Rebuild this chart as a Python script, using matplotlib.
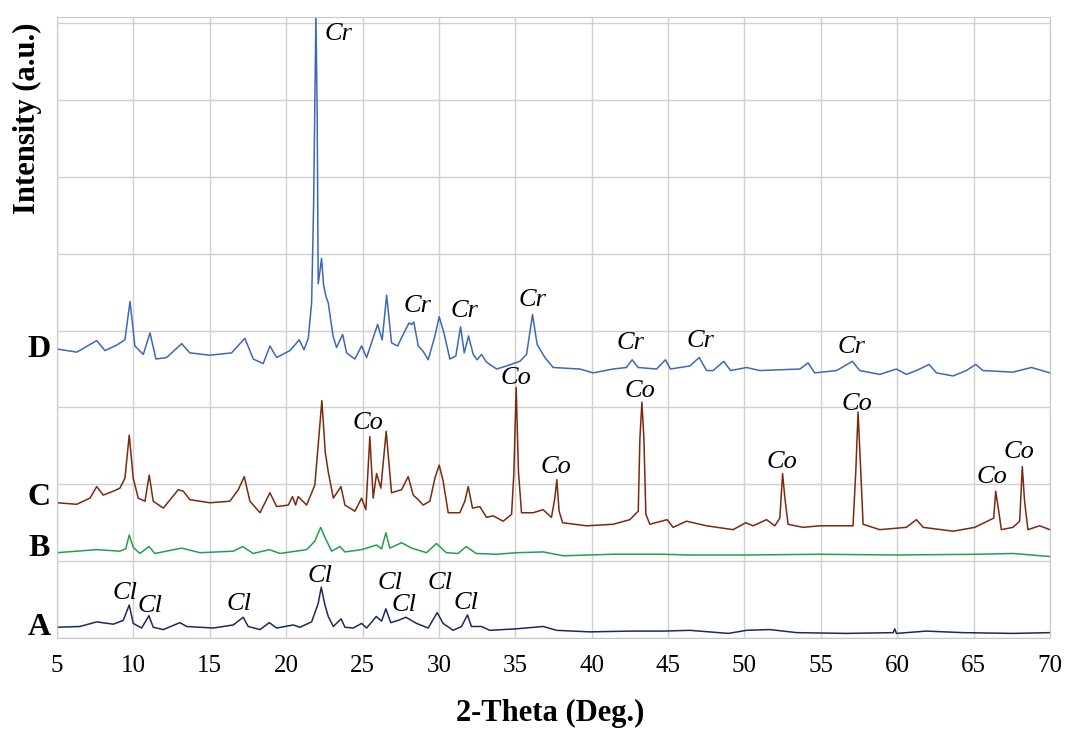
import matplotlib.pyplot as plt
import matplotlib.transforms as mtransforms
import numpy as np

# Patrones DRX (2-theta, intensidad a.u.)
theta_D = [5.0, 6.3, 7.6, 8.14, 8.9, 9.45, 9.78, 10.1, 10.65, 11.09, 11.48, 12.18, 13.16, 13.7,
           15.0, 16.43, 17.3, 17.85, 18.5, 18.94, 19.38, 20.25, 20.86, 21.17, 21.45, 21.67,
           21.8, 21.95, 22.03, 22.1, 22.2, 22.32, 22.45, 22.6, 22.76, 23.07, 23.3, 23.7, 23.96,
           24.5, 24.94, 25.27, 25.99, 26.29, 26.58, 26.9, 27.3, 27.66, 28.05, 28.21, 28.36,
           28.65, 28.97, 29.3, 29.74, 30.02, 30.33, 30.72, 31.11, 31.42, 31.66, 31.94, 32.25,
           32.5, 32.79, 33.12, 33.78, 34.43, 35.3, 35.74, 36.13, 36.43, 36.94, 37.48, 39.23,
           40.1, 41.4, 42.28, 42.65, 43.04, 44.25, 44.83, 45.16, 46.43, 47.04, 47.52, 47.95,
           48.65, 49.1, 50.14, 51.0, 53.63, 54.17, 54.6, 56.03, 57.07, 57.55, 58.86, 59.95,
           60.6, 61.26, 62.09, 62.57, 63.66, 64.53, 65.14, 65.62, 67.58, 68.79, 70.0]
inten_D = [3.76, 3.72, 3.87, 3.74, 3.81, 3.88, 4.38, 3.80, 3.69, 3.97, 3.63, 3.65, 3.83, 3.71,
           3.68, 3.71, 3.90, 3.63, 3.57, 3.80, 3.65, 3.74, 3.88, 3.75, 3.90, 4.36,
           5.64, 8.10, 6.90, 4.61, 4.75, 4.94, 4.60, 4.45, 4.36, 3.93, 3.78, 3.95, 3.71,
           3.63, 3.80, 3.65, 4.08, 3.88, 4.46, 3.84, 3.80, 3.95, 4.10, 4.08, 4.11,
           3.80, 3.73, 3.62, 3.93, 4.18, 3.97, 3.63, 3.67, 4.05, 3.71, 3.93, 3.69,
           3.62, 3.69, 3.59, 3.50, 3.54, 3.60, 3.69, 4.21, 3.82, 3.65, 3.52, 3.50,
           3.45, 3.50, 3.52, 3.62, 3.52, 3.50, 3.62, 3.50, 3.54, 3.65, 3.48, 3.48,
           3.60, 3.48, 3.52, 3.48, 3.50, 3.58, 3.45, 3.48, 3.60, 3.48, 3.43, 3.50,
           3.43, 3.48, 3.56, 3.45, 3.41, 3.48, 3.56, 3.48, 3.46, 3.52, 3.45]

theta_C = [5.0, 6.29, 7.16, 7.6, 8.03, 8.68, 9.12, 9.45, 9.73, 9.99, 10.32, 10.76, 11.04, 11.3,
           11.96, 12.94, 13.27, 13.7, 15.0, 16.32, 16.87, 17.26, 17.63, 18.29, 18.94, 19.38,
           20.14, 20.42, 20.62, 20.79, 21.34, 21.88, 22.1, 22.34, 22.56, 22.76, 23.09, 23.59,
           23.85, 24.5, 24.94, 25.22, 25.48, 25.7, 25.92, 26.2, 26.55, 26.9, 27.56, 27.99,
           28.32, 28.65, 28.97, 29.41, 29.74, 30.02, 30.28, 30.61, 31.37, 31.7, 31.92, 32.2,
           32.68, 33.12, 33.55, 34.21, 34.76, 34.91, 35.06, 35.21, 35.41, 36.17, 36.82, 37.37,
           37.59, 37.72, 37.87, 38.1, 39.67, 41.41, 42.5, 43.05, 43.16, 43.29, 43.42, 43.55,
           43.81, 44.94, 45.33, 46.21, 47.52, 49.26, 50.09, 50.57, 51.45, 51.99, 52.32, 52.5,
           52.65, 52.86, 53.84, 54.93, 57.11, 57.29, 57.44, 57.62, 57.77, 58.86, 60.6, 61.26,
           61.7, 63.66, 65.08, 66.32, 66.45, 66.62, 66.82, 67.58, 68.02, 68.19, 68.34, 68.56,
           69.32, 70.0]
inten_C = [1.76, 1.74, 1.82, 1.97, 1.86, 1.91, 1.95, 2.08, 2.64, 2.08, 1.82, 1.78, 2.12, 1.78,
           1.69, 1.93, 1.91, 1.80, 1.76, 1.78, 1.93, 2.10, 1.78, 1.63, 1.89, 1.71,
           1.73, 1.84, 1.73, 1.84, 1.73, 1.99, 2.51, 3.09, 2.42, 2.16, 1.82, 1.97,
           1.73, 1.65, 1.82, 1.67, 2.62, 1.82, 2.14, 1.95, 2.69, 1.89, 1.93, 2.10,
           1.86, 1.80, 1.73, 1.78, 2.08, 2.25, 2.04, 1.63, 1.63, 1.78, 1.97, 1.69,
           1.71, 1.57, 1.59, 1.52, 1.61, 2.16, 3.26, 2.16, 1.63, 1.63, 1.67, 1.57,
           1.82, 2.06, 1.65, 1.50, 1.46, 1.48, 1.54, 1.65, 2.60, 3.07, 2.60, 1.61,
           1.48, 1.54, 1.44, 1.52, 1.46, 1.41, 1.50, 1.46, 1.54, 1.46, 1.56, 2.14,
           1.82, 1.48, 1.44, 1.46, 1.46, 2.16, 2.94, 2.16, 1.48, 1.41, 1.44, 1.54,
           1.44, 1.39, 1.44, 1.56, 1.91, 1.69, 1.41, 1.44, 1.52, 2.23, 1.78, 1.41,
           1.46, 1.41]

theta_B = [5.0, 7.6, 9.12, 9.5, 9.73, 9.99, 10.43, 11.02, 11.41, 13.16, 14.36, 16.54, 17.15,
           17.85, 18.9, 19.6, 21.34, 21.88, 22.26, 22.54, 22.98, 23.52, 23.85, 24.94, 25.92,
           26.25, 26.53, 26.79, 27.56, 28.21, 29.19, 29.84, 30.49, 31.25, 31.79, 32.44, 33.78,
           35.09, 36.83, 38.14, 41.41, 44.68, 46.43, 50.14, 54.93, 59.95, 65.4, 67.58, 70.0]
inten_B = [1.11, 1.15, 1.13, 1.16, 1.34, 1.18, 1.10, 1.19, 1.10, 1.17, 1.11, 1.13, 1.19,
           1.10, 1.15, 1.10, 1.15, 1.26, 1.44, 1.31, 1.13, 1.19, 1.12, 1.15, 1.21,
           1.16, 1.37, 1.17, 1.24, 1.17, 1.11, 1.23, 1.11, 1.10, 1.19, 1.10, 1.09,
           1.11, 1.12, 1.07, 1.09, 1.09, 1.08, 1.08, 1.09, 1.08, 1.09, 1.10, 1.06]

theta_A = [5.0, 6.5, 7.6, 8.69, 9.34, 9.73, 9.99, 10.54, 11.02, 11.3, 11.96, 13.05, 13.49,
           15.23, 16.54, 17.19, 17.52, 18.29, 18.9, 19.38, 20.47, 20.9, 21.67, 22.1, 22.3,
           22.54, 22.76, 23.09, 23.6, 23.85, 24.4, 24.94, 25.27, 25.9, 26.25, 26.53, 26.85,
           27.34, 27.84, 28.54, 29.3, 29.89, 30.28, 30.93, 31.48, 31.87, 32.13, 32.79, 33.34,
           35.09, 36.83, 37.7, 39.88, 42.5, 44.68, 46.43, 48.95, 50.14, 51.67, 53.42, 56.69,
           59.74, 59.84, 59.95, 61.91, 64.31, 67.58, 70.0]
inten_A = [0.14, 0.15, 0.21, 0.18, 0.23, 0.43, 0.19, 0.13, 0.29, 0.14, 0.11, 0.20, 0.15,
           0.13, 0.17, 0.27, 0.15, 0.11, 0.20, 0.13, 0.17, 0.14, 0.21, 0.45, 0.66,
           0.43, 0.28, 0.15, 0.25, 0.14, 0.13, 0.19, 0.13, 0.28, 0.22, 0.38, 0.20,
           0.23, 0.27, 0.19, 0.13, 0.33, 0.19, 0.10, 0.15, 0.30, 0.15, 0.15, 0.10,
           0.12, 0.15, 0.10, 0.08, 0.09, 0.09, 0.10, 0.06, 0.10, 0.11, 0.07, 0.06,
           0.07, 0.12, 0.06, 0.09, 0.07, 0.06, 0.07]

# Etiquetas de fases (texto, 2-theta, intensidad)
fases_txt = ["Cr", "Cr", "Cr", "Cr", "Cr", "Cr", "Cr",
             "Co", "Co", "Co", "Co", "Co", "Co", "Co", "Co",
             "Cl", "Cl", "Cl", "Cl", "Cl", "Cl", "Cl", "Cl"]
fases_x = [23.4, 28.6, 31.7, 36.15, 42.57, 47.1, 57.0,
           25.35, 35.04, 37.66, 43.15, 52.45, 57.36, 66.2, 68.0,
           9.45, 11.1, 16.9, 22.2, 26.8, 27.7, 30.1, 31.8]
fases_y = [7.86, 4.32, 4.26, 4.40, 3.84, 3.87, 3.79,
           2.80, 3.38, 2.22, 3.22, 2.29, 3.04, 2.09, 2.42,
           0.59, 0.42, 0.44, 0.81, 0.71, 0.43, 0.71, 0.45]

muestras = ["A", "B", "C", "D"]
muestras_y = [0.14, 1.17, 1.83, 3.76]

plt.rcParams['font.family'] = ['Liberation Serif', 'DejaVu Serif']

fig = plt.figure(figsize=(10.67, 7.31), dpi=100)
ax = fig.add_axes([0.0534, 0.1272, 0.9306, 0.8495])

ax.plot(theta_A, inten_A, color="#1c2a5e", lw=1.1)
ax.plot(theta_B, inten_B, color="#22a04e", lw=1.1)
ax.plot(theta_C, inten_C, color="#7a2a10", lw=1.1)
ax.plot(theta_D, inten_D, color="#3d68b8", lw=1.1)

ax.set_xlim(5, 70)
ax.set_ylim(0, 8.08)
ax.set_xticks(np.arange(5, 71, 5))
ax.set_yticks(np.arange(0, 9, 1))
ax.set_yticklabels([])
ax.tick_params(length=0, labelsize=18, pad=12)
ax.grid(True, color="#d0d0d0", lw=1.0)
ax.set_axisbelow(True)
for s in ax.spines.values():
    s.set_color("#c8c8c8")

for t, x, y in zip(fases_txt, fases_x, fases_y):
    ax.text(x, y, t, style="italic", fontsize=19, ha="center", va="center")

trans = mtransforms.blended_transform_factory(fig.transFigure, ax.transData)
for m, y in zip(muestras, muestras_y):
    ax.text(0.0366, y, m, transform=trans, fontsize=23, fontweight="bold",
            ha="center", va="center", clip_on=False)

fig.text(0.516, 0.024, "2-Theta (Deg.)", fontsize=22, fontweight="bold",
         ha="center", va="center")
fig.text(0.026, 0.838, "Intensity (a.u.)", fontsize=22, fontweight="bold",
         ha="center", va="center", rotation=90)

fig.savefig("out.png", dpi=100)
